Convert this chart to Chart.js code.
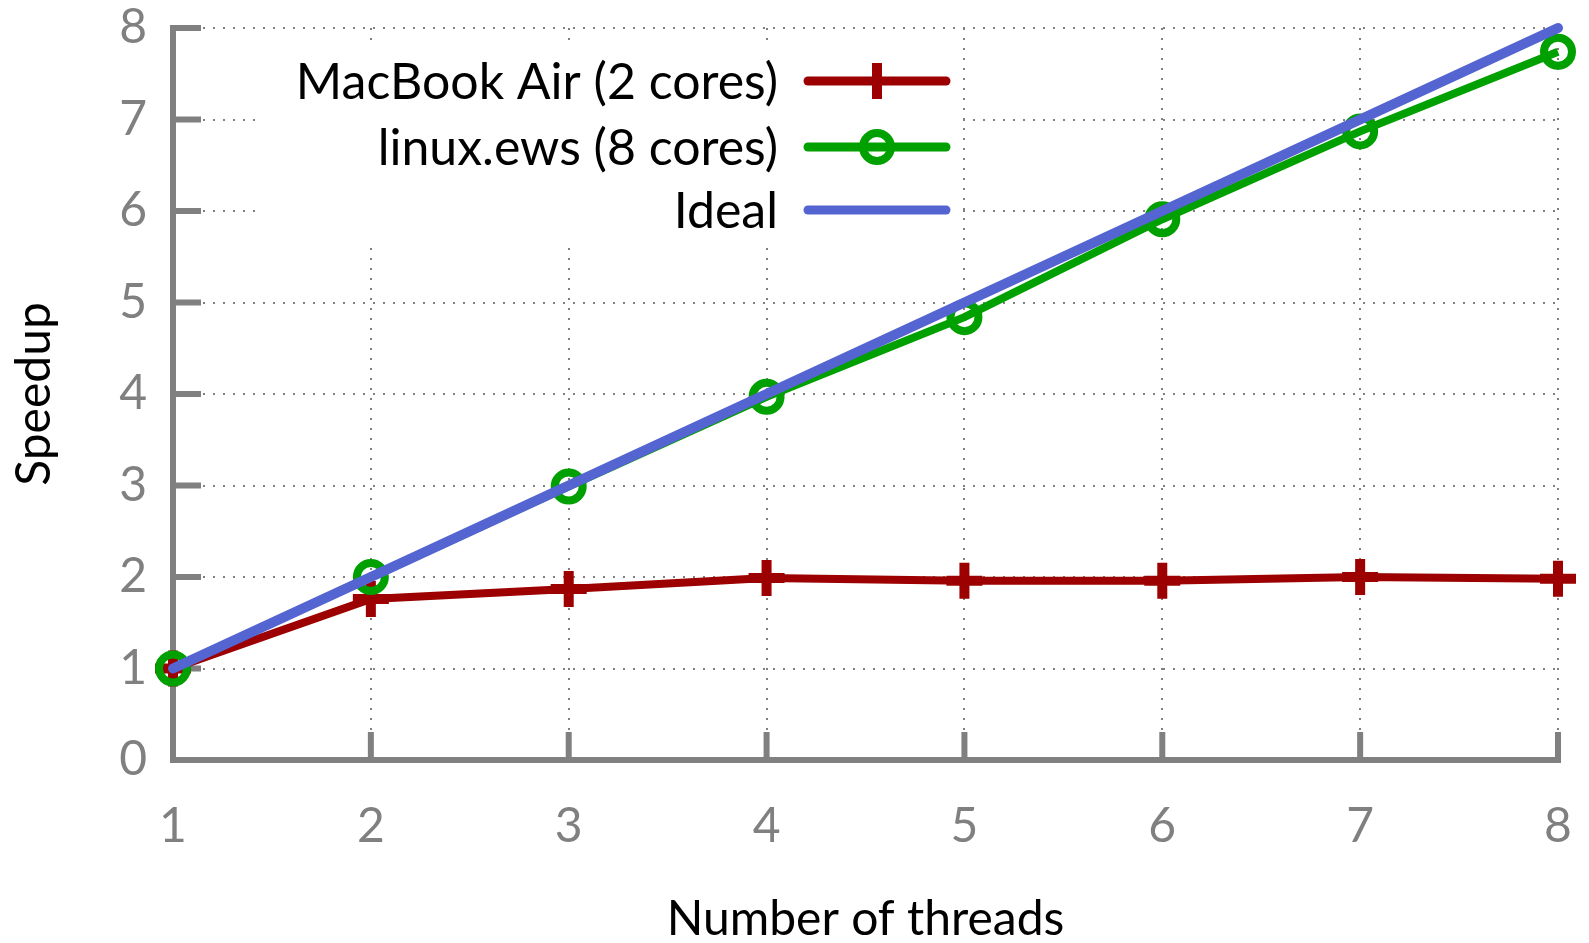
<!DOCTYPE html>
<html>
<head>
<meta charset="utf-8">
<script src="https://cdn.jsdelivr.net/npm/chart.js@4"></script>
<style>
  html, body { margin: 0; padding: 0; background: #fff; }
  #wrap { width: 1589px; height: 943px; }
</style>
</head>
<body>
<div id="wrap"><canvas id="myChart" width="1589" height="943"></canvas></div>
<script>
// data
var threads = [1, 2, 3, 4, 5, 6, 7, 8];
var macbook = [1.0, 1.76, 1.87, 1.99, 1.96, 1.96, 2.0, 1.98];
var linuxEws = [1.0, 2.0, 2.99, 3.97, 4.84, 5.91, 6.87, 7.74];
var ideal = [1, 2, 3, 4, 5, 6, 7, 8];
var seriesNames = ["MacBook Air (2 cores)", "linux.ews (8 cores)", "Ideal"];

var RED = "#9c0000";
var GREEN = "#00a000";
var BLUE = "#5464d0";
var GRAY = "#808080";
var FONT = "Lato";

function toPoints(ys) {
  var pts = [];
  for (var i = 0; i < threads.length; i++) {
    pts.push({ x: threads[i], y: ys[i] });
  }
  return pts;
}

// L shaped axis with inward ticks, gnuplot style
var frame = {
  id: "frame",
  beforeDatasetsDraw: function (chart) {
    var ctx = chart.ctx;
    var a = chart.chartArea;
    var xs = chart.scales.x;
    var ys = chart.scales.y;
    ctx.save();
    ctx.strokeStyle = GRAY;
    ctx.lineWidth = 6;
    ctx.lineCap = "square";
    ctx.beginPath();
    ctx.moveTo(a.left, a.top);
    ctx.lineTo(a.left, a.bottom);
    ctx.lineTo(a.right, a.bottom);
    ctx.stroke();
    ctx.lineCap = "butt";
    ctx.beginPath();
    for (var v = 1; v <= 8; v++) {
      var py = ys.getPixelForValue(v);
      ctx.moveTo(a.left, py);
      ctx.lineTo(a.left + 28, py);
    }
    for (var t = 2; t <= 8; t++) {
      var px = xs.getPixelForValue(t);
      ctx.moveTo(px, a.bottom);
      ctx.lineTo(px, a.bottom - 28);
    }
    ctx.stroke();
    ctx.restore();
  },
  afterDraw: function (chart) {
    var ctx = chart.ctx;
    ctx.save();
    ctx.fillStyle = "#fff";
    ctx.fillRect(255, 45, 700, 195);
    var rows = [81, 147, 210];
    var ds = chart.data.datasets;
    var order = [2, 1, 0]; // dataset index for each legend row
    ctx.font = "50px " + FONT;
    ctx.textAlign = "right";
    ctx.textBaseline = "middle";
    for (var i = 0; i < 3; i++) {
      var d = ds[order[i]];
      var y = rows[i];
      ctx.fillStyle = "#000";
      ctx.fillText(d.label, 778, y + 2);
      ctx.strokeStyle = d.borderColor;
      ctx.lineWidth = 9;
      ctx.lineCap = "round";
      ctx.beginPath();
      ctx.moveTo(808, y);
      ctx.lineTo(946, y);
      ctx.stroke();
      if (d.pointStyle === "cross") {
        ctx.lineWidth = 10;
        ctx.lineCap = "butt";
        ctx.beginPath();
        ctx.moveTo(877, y - 18);
        ctx.lineTo(877, y + 18);
        ctx.stroke();
      } else if (d.pointStyle === "circle" && d.pointRadius > 0) {
        ctx.lineWidth = 8;
        ctx.beginPath();
        ctx.arc(877, y, 14, 0, Math.PI * 2);
        ctx.stroke();
      }
    }
    ctx.restore();
  },
};

new Chart("myChart", {
  type: "line",
  data: {
    datasets: [
      {
        label: seriesNames[2],
        data: toPoints(ideal),
        borderColor: BLUE,
        borderWidth: 10,
        pointRadius: 0,
        pointStyle: "circle",
        borderCapStyle: "round",
        order: 0,
        clip: false,
      },
      {
        label: seriesNames[1],
        data: toPoints(linuxEws),
        borderColor: GREEN,
        borderWidth: 8,
        pointStyle: "circle",
        pointRadius: 14,
        pointBorderWidth: 8,
        pointBorderColor: GREEN,
        pointBackgroundColor: "rgba(0,0,0,0)",
        order: 1,
        clip: false,
      },
      {
        label: seriesNames[0],
        data: toPoints(macbook),
        borderColor: RED,
        borderWidth: 8,
        pointStyle: "cross",
        pointRadius: 18,
        pointBorderWidth: 10,
        pointBorderColor: RED,
        order: 2,
        clip: false,
      },
    ],
  },
  options: {
    responsive: false,
    animation: false,
    layout: { padding: { top: 25, right: 31, left: 0, bottom: 0 } },
    plugins: {
      legend: { display: false },
      tooltip: { enabled: false },
    },
    scales: {
      x: {
        type: "linear",
        min: 1,
        max: 8,
        afterFit: function (s) {
          s.height = 183;
          s.paddingLeft = 0;
          s.paddingRight = 0;
        },
        ticks: { stepSize: 1, color: GRAY, font: { family: FONT, size: 48 }, padding: 38 },
        grid: { color: GRAY, lineWidth: 2, drawTicks: false },
        border: { display: false, dash: [2, 8] },
        title: { display: true, text: "Number of threads", color: "#000", font: { family: FONT, size: 48 }, padding: { top: 20, bottom: -5 } },
      },
      y: {
        min: 0,
        max: 8,
        afterFit: function (s) {
          s.width = 173;
          s.paddingTop = 0;
          s.paddingBottom = 0;
        },
        ticks: { stepSize: 1, color: GRAY, font: { family: FONT, size: 48 }, padding: 26 },
        grid: { color: GRAY, lineWidth: 2, drawTicks: false },
        border: { display: false, dash: [2, 8] },
        title: { display: true, text: "Speedup", color: "#000", font: { family: FONT, size: 48 }, padding: { top: 6, bottom: 0 } },
      },
    },
  },
  plugins: [frame],
});
</script>
</body>
</html>
